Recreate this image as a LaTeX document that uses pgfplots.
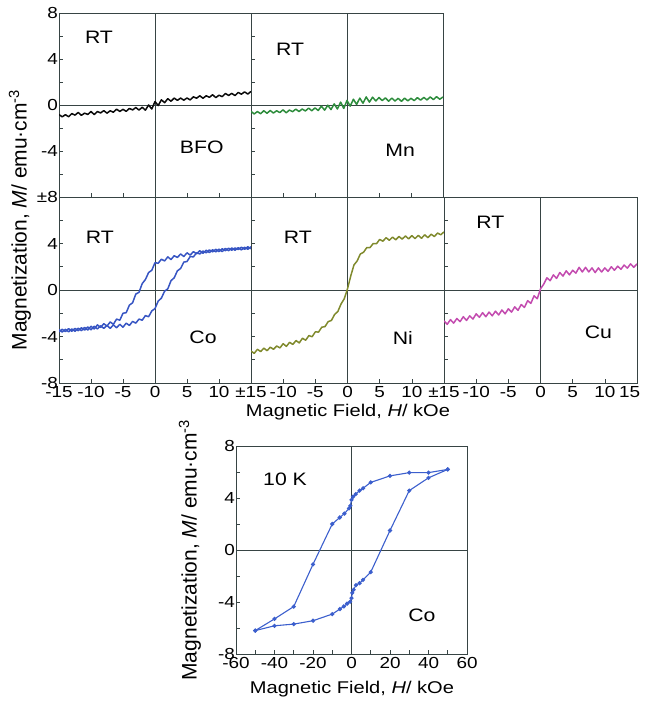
\documentclass[border=0pt]{standalone}
\usepackage{fontspec}
\setmainfont{Liberation Sans}[FakeStretch=1.18]
\newfontfamily\plainsf{Liberation Sans}
\usepackage{pgfplots}
\pgfplotsset{compat=1.18}
\definecolor{axcol}{RGB}{55,68,68}
\definecolor{bfo}{RGB}{10,10,10}
\definecolor{mn}{RGB}{45,140,60}
\definecolor{co}{RGB}{55,85,195}
\definecolor{ni}{RGB}{128,138,45}
\definecolor{cu}{RGB}{195,75,175}
\definecolor{cob}{RGB}{60,95,205}

\pgfplotsset{
  panel/.style={
    scale only axis, anchor=south west,
    width=192pt, height=184pt,
    xmin=-15, xmax=15, ymin=-8, ymax=8,
    xtick={-15,-10,...,15}, ytick={-8,-4,...,8},
    minor ytick={-6,-2,2,6},
    xtick pos=bottom, ytick pos=left, tick align=inside,
    major tick length=4pt, minor tick length=4pt,
    every tick/.style={axcol, line width=0.6pt},
    axis line style={axcol, line width=0.8pt},
    xticklabels={}, yticklabels={},
    tick label style={font=\fontsize{16}{16}\selectfont},
    yticklabel style={inner sep=1pt},
    /pgf/number format/assume math mode=true,
  },
  noisy/.style={line width=1.5pt, no marks, line join=round},
}
\newcommand{\zerolines}[1]{%
  \draw[axcol, line width=0.7pt] (axis cs:0,-8) -- (axis cs:0,8);
  \draw[axcol, line width=0.7pt] (axis cs:#1,0) -- (axis cs:-#1,0);}
\newcommand{\lab}{\fontsize{18}{18}\selectfont}

\begin{document}
\begin{tikzpicture}
\path[use as bounding box] (0,0) rectangle (646pt,702pt);

% ---------- BFO ----------
\begin{axis}[panel, at={(59pt,505pt)}, yticklabels={,-4,0,4,8}]
\zerolines{15}
\addplot[noisy, bfo] coordinates {
(-15,-0.83)(-14.5,-1.03)(-14,-0.84)(-13.5,-1.02)(-13,-0.75)(-12.5,-0.88)(-12,-0.65)(-11.5,-0.9)
(-11,-0.71)(-10.5,-0.82)(-10,-0.57)(-9.5,-0.83)(-9,-0.57)(-8.5,-0.69)(-8,-0.49)(-7.5,-0.71)
(-7,-0.5)(-6.5,-0.63)(-6,-0.36)(-5.5,-0.56)(-5,-0.38)(-4.5,-0.55)(-4,-0.3)(-3.5,-0.43)
(-3,-0.22)(-2.5,-0.44)(-2,-0.2)(-1.5,-0.45)(-1,0.0)(-0.5,-0.35)(0,0.3)(0.5,-0.05)
(1,0.45)(1.5,0.2)(2,0.55)(2.5,0.33)(3,0.6)(3.5,0.4)(4,0.6)(4.5,0.42)(5,0.61)(5.5,0.44)
(6,0.71)(6.5,0.59)(7,0.8)(7.5,0.59)(8,0.8)(8.5,0.67)(9,0.89)(9.5,0.64)(10,0.85)(10.5,0.73)
(11,1.0)(11.5,0.83)(12,1.01)(12.5,0.82)(13,1.09)(13.5,0.94)(14,1.14)(14.5,0.95)(15,1.18)
};
\node[font=\lab] at (axis cs:-8.75,5.9) {RT};
\node[font=\lab] at (axis cs:7.3,-3.7) {BFO};
\end{axis}

% ---------- Mn ----------
\begin{axis}[panel, at={(251pt,505pt)}]
\zerolines{15}
\addplot[noisy, mn] coordinates {
(-15,-0.55)(-14.5,-0.78)(-14,-0.57)(-13.5,-0.76)(-13,-0.5)(-12.5,-0.72)(-12,-0.48)(-11.5,-0.7)
(-11,-0.5)(-10.5,-0.66)(-10,-0.42)(-9.5,-0.68)(-9,-0.44)(-8.5,-0.58)(-8,-0.36)(-7.5,-0.57)
(-7,-0.35)(-6.5,-0.52)(-6,-0.27)(-5.5,-0.5)(-5,-0.25)(-4.5,-0.48)(-4,-0.1)(-3.5,-0.45)
(-3,-0.02)(-2.5,-0.4)(-2,0.1)(-1.5,-0.35)(-1,0.25)(-0.5,-0.3)(0,0.4)(0.5,-0.1)
(1,0.5)(1.5,0.05)(2,0.6)(2.5,0.15)(3,0.7)(3.5,0.25)(4,0.68)(4.5,0.35)(5,0.65)(5.5,0.38)
(6,0.62)(6.5,0.33)(7,0.6)(7.5,0.35)(8,0.58)(8.5,0.32)(9,0.6)(9.5,0.36)(10,0.58)(10.5,0.38)
(11,0.64)(11.5,0.42)(12,0.66)(12.5,0.44)(13,0.7)(13.5,0.47)(14,0.72)(14.5,0.5)(15,0.7)
};
\node[font=\lab] at (axis cs:-8.9,4.8) {RT};
\node[font=\lab] at (axis cs:8.3,-3.9) {Mn};
\end{axis}

% ---------- Co ----------
\begin{axis}[panel, at={(59pt,319pt)}, height=186pt,
  xticklabels={-15,-10,-5,0,5,10,}, yticklabels={-8,-4,0,4,±8}]
\zerolines{15}
\addplot[noisy, co] coordinates {
(15,3.72)(14.5,3.5)(14,3.68)(13.5,3.45)(13,3.64)(12.5,3.42)(12,3.62)(11.5,3.38)(11,3.58)
(10.5,3.3)(10,3.52)(9.5,3.28)(9,3.46)(8.5,3.22)(8,3.42)(7.5,3.15)(7,3.38)(6.5,3.12)(6,3.3)
(5.5,3.0)(5,3.2)(4.5,2.88)(4,3.1)(3.5,2.8)(3,2.95)(2.5,2.62)(2,2.85)(1.5,2.5)(1,2.65)
(0.5,2.3)(0,2.35)(-0.5,1.7)(-1,1.5)(-1.5,0.9)(-2,0.55)(-2.5,-0.2)(-3,-0.35)(-3.5,-1.1)
(-4,-1.3)(-4.5,-1.95)(-5,-2.0)(-5.5,-2.6)(-6,-2.5)(-6.5,-2.95)(-7,-2.75)(-7.5,-3.1)(-8,-2.9)
(-8.5,-3.22)(-9,-3.0)(-9.5,-3.35)(-10,-3.12)(-10.5,-3.45)(-11,-3.22)(-11.5,-3.5)(-12,-3.28)
(-12.5,-3.55)(-13,-3.35)(-13.5,-3.6)(-14,-3.38)(-14.5,-3.62)(-15,-3.4)
};
\addplot[noisy, co] coordinates {
(-15,-3.6)(-14.5,-3.38)(-14,-3.58)(-13.5,-3.32)(-13,-3.55)(-12.5,-3.3)(-12,-3.5)(-11.5,-3.25)
(-11,-3.45)(-10.5,-3.18)(-10,-3.42)(-9.5,-3.12)(-9,-3.35)(-8.5,-3.08)(-8,-3.3)(-7.5,-3.05)
(-7,-3.3)(-6.5,-3.0)(-6,-3.25)(-5.5,-2.95)(-5,-3.2)(-4.5,-2.85)(-4,-3.05)(-3.5,-2.7)(-3,-2.85)
(-2.5,-2.5)(-2,-2.6)(-1.5,-2.2)(-1,-2.3)(-0.5,-1.8)(0,-1.6)(0.5,-0.95)(1,-0.7)(1.5,-0.1)
(2,0.1)(2.5,0.8)(3,1.05)(3.5,1.65)(4,1.85)(4.5,2.4)(5,2.45)(5.5,2.88)(6,2.85)(6.5,3.2)
(7,3.1)(7.5,3.35)(8,3.2)(8.5,3.45)(9,3.28)(9.5,3.5)(10,3.3)(10.5,3.55)(11,3.38)(11.5,3.6)
(12,3.42)(12.5,3.62)(13,3.48)(13.5,3.68)(14,3.5)(14.5,3.72)(15,3.55)
};
\node[font=\lab] at (axis cs:-8.6,4.55) {RT};
\node[font=\lab] at (axis cs:7.5,-4.1) {Co};
\end{axis}

% ---------- Ni ----------
\begin{axis}[panel, at={(251pt,319pt)}, height=186pt, width=193pt,
  xticklabels={±15,-10,-5,0,5,10,}]
\zerolines{15}
\addplot[noisy, ni] coordinates {
(-15,-5.25)(-14.5,-5.45)(-14,-5.1)(-13.5,-5.3)(-13,-5.0)(-12.5,-5.22)(-12,-4.92)(-11.5,-5.1)
(-11,-4.82)(-10.5,-4.98)(-10,-4.62)(-9.5,-4.85)(-9,-4.5)(-8.5,-4.68)(-8,-4.35)(-7.5,-4.55)
(-7,-4.15)(-6.5,-4.32)(-6,-3.92)(-5.5,-4.02)(-5,-3.6)(-4.5,-3.62)(-4,-3.2)(-3.5,-3.15)
(-3,-2.72)(-2.5,-2.62)(-2,-2.1)(-1.5,-1.85)(-1,-1.2)(-0.5,-0.75)(0,0.1)(0.5,1.2)
(1,2.15)(1.5,2.5)(2,3.1)(2.5,3.25)(3,3.65)(3.5,3.65)(4,4.0)(4.5,3.98)(5,4.35)(5.5,4.2)
(6,4.5)(6.5,4.28)(7,4.55)(7.5,4.32)(8,4.6)(8.5,4.38)(9,4.65)(9.5,4.4)(10,4.68)(10.5,4.42)
(11,4.7)(11.5,4.45)(12,4.75)(12.5,4.5)(13,4.8)(13.5,4.6)(14,4.9)(14.5,4.75)(15,5.0)
};
\node[font=\lab] at (axis cs:-7.7,4.55) {RT};
\node[font=\lab] at (axis cs:8.6,-4.1) {Ni};
\end{axis}

% ---------- Cu ----------
\begin{axis}[panel, at={(444pt,319pt)}, height=186pt, width=193pt,
  xticklabels={±15,-10,-5,0,5,10,\makebox[0pt][r]{15\hspace{-3pt}}}]
\zerolines{15}
\addplot[noisy, cu] coordinates {
(-15,-2.65)(-14.5,-2.95)(-14,-2.55)(-13.5,-2.85)(-13,-2.45)(-12.5,-2.72)(-12,-2.3)(-11.5,-2.62)
(-11,-2.22)(-10.5,-2.5)(-10,-2.05)(-9.5,-2.35)(-9,-1.95)(-8.5,-2.3)(-8,-1.9)(-7.5,-2.22)
(-7,-1.82)(-6.5,-2.15)(-6,-1.72)(-5.5,-2.05)(-5,-1.62)(-4.5,-1.9)(-4,-1.45)(-3.5,-1.75)
(-3,-1.25)(-2.5,-1.5)(-2,-0.92)(-1.5,-1.15)(-1,-0.5)(-0.5,-0.75)(0,0.1)(0.5,0.5)
(1,1.05)(1.5,0.8)(2,1.3)(2.5,1.0)(3,1.5)(3.5,1.2)(4,1.65)(4.5,1.3)(5,1.7)(5.5,1.45)
(6,1.95)(6.5,1.55)(7,1.95)(7.5,1.55)(8,1.9)(8.5,1.5)(9,1.9)(9.5,1.55)(10,1.9)(10.5,1.6)
(11,2.0)(11.5,1.7)(12,2.05)(12.5,1.78)(13,2.15)(13.5,1.88)(14,2.25)(14.5,1.95)(15,2.25)
};
\node[font=\lab] at (axis cs:-7.8,5.85) {RT};
\node[font=\lab] at (axis cs:9,-3.6) {Cu};
\end{axis}

\node[font=\fontsize{17}{17}\selectfont] at (348pt,290pt) {Magnetic Field, \textit{H}/ kOe};
\node[rotate=90, font=\plainsf\fontsize{21}{21}\selectfont] at (20pt,482pt)
  {Magnetization, \textit{M}/ emu·cm\textsuperscript{-3}};

% ---------- Co at 10 K ----------
\begin{axis}[scale only axis, anchor=south west, at={(236pt,48pt)},
  width=231pt, height=208pt,
  xmin=-60, xmax=60, ymin=-8, ymax=8,
  xtick={-60,-40,...,60}, minor xtick={-50,-30,...,50},
  ytick={-8,-4,...,8}, minor ytick={-6,-2,2,6},
  xticklabels={-60,-40,-20,0,20,40,60}, yticklabels={-8,-4,0,4,8},
  xtick pos=bottom, ytick pos=left, tick align=inside,
  major tick length=4pt, minor tick length=4pt,
  every tick/.style={axcol, line width=0.6pt},
  axis line style={axcol, line width=0.8pt},
  tick label style={font=\fontsize{16}{16}\selectfont},
  yticklabel style={inner sep=1pt},
]
\zerolines{60}
\addplot[cob, line width=1.1pt, mark=*, mark size=1.5pt] coordinates {
(50,6.2)(40,5.95)(30,5.95)(20,5.7)(10,5.2)(6,4.75)(4.2,4.57)(2.2,4.3)(0.8,4.1)(0,3.85)
(-0.6,3.4)(-1.3,3.2)(-3.7,2.8)(-6.1,2.5)(-10,2.0)(-20,-1.1)(-30,-4.35)(-40,-5.3)(-50,-6.2)
};
\addplot[cob, line width=1.1pt, mark=*, mark size=1.5pt] coordinates {
(-50,-6.2)(-40,-5.83)(-30,-5.7)(-20,-5.44)(-10,-4.93)(-6,-4.54)(-4,-4.34)(-2.3,-4.13)
(-0.7,-3.98)(0,-3.7)(0.4,-3.3)(1.1,-3.06)(2.3,-2.7)(4.2,-2.55)(6,-2.3)(10,-1.7)
(20,1.5)(30,4.57)(40,5.55)(50,6.2)
};
\node[font=\lab] at (axis cs:-34.5,5.4) {10 K};
\node[font=\lab] at (axis cs:36.6,-5) {Co};
\end{axis}

\node[font=\fontsize{17}{17}\selectfont] at (352pt,13pt) {Magnetic Field, \textit{H}/ kOe};
\node[rotate=90, font=\plainsf\fontsize{21}{21}\selectfont] at (190pt,152pt)
  {Magnetization, \textit{M}/ emu·cm\textsuperscript{-3}};
\end{tikzpicture}
\end{document}
